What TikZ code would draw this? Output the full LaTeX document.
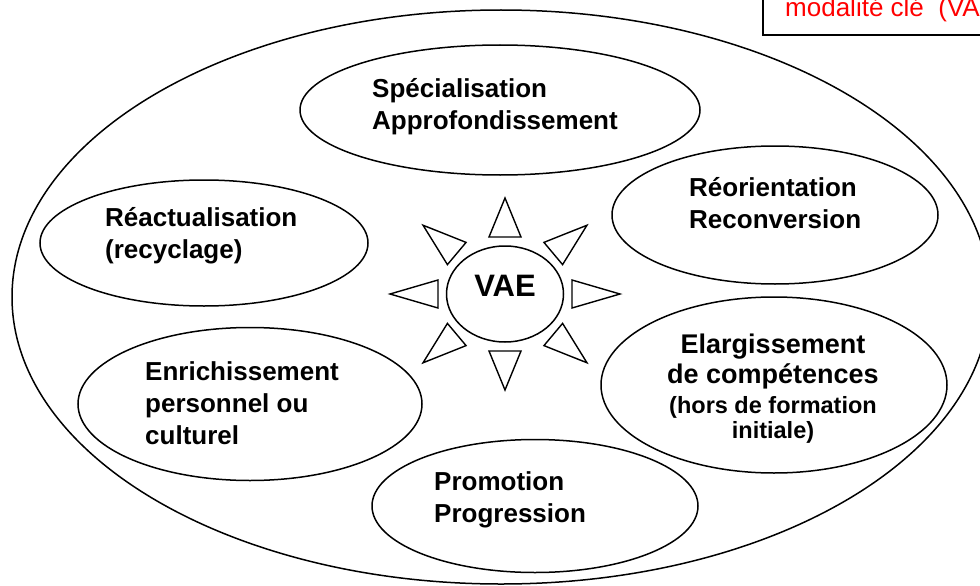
\documentclass[tikz,border=0pt]{standalone}
\usepackage{fontspec}
\setmainfont{Liberation Sans}
\usetikzlibrary{shapes.geometric}

\begin{document}
\begin{tikzpicture}
  [x=1pt,y=-1pt,
   bulle/.style={ellipse, draw, line width=1.5pt, inner sep=0pt},
   titre/.style={font=\bfseries\fontsize{26}{31.7}\selectfont, align=left, inner sep=0pt, anchor=base west},
   rayon/.style={draw, line width=1.4pt, line join=miter}]
  \useasboundingbox (0,0) rectangle (980,586);
  \clip (0,0) rectangle (980,586);

  % cadre en haut a droite
  \draw[line width=1.3pt] (763,-10) rectangle (1000,35);
  \node[anchor=base west, inner sep=0pt, text=red, font=\fontsize{26}{30}\selectfont] (note) at (785,17) {modalité clé\ \ (VA};

  % grande ellipse
  \node[bulle, minimum width=978pt, minimum height=574pt] (cadre) at (501,297) {};

  \node[bulle, minimum width=400pt, minimum height=130pt] (spec) at (500,110) {};
  \node[bulle, minimum width=328pt, minimum height=126pt] (reac) at (204,243) {};
  \node[bulle, minimum width=326pt, minimum height=138pt] (reor) at (775,215) {};
  \node[bulle, minimum width=344pt, minimum height=153pt] (enri) at (250,404) {};
  \node[bulle, minimum width=346pt, minimum height=176pt] (elar) at (774,385) {};
  \node[bulle, minimum width=326pt, minimum height=133pt] (prom) at (535,506) {};
  \node[bulle, minimum width=117pt, minimum height=96pt] (vae) at (505,294) {};

  % textes (base = derniere ligne)
  \node[titre] (l-spec) at (372,129) {Spécialisation\\Approfondissement};
  \node[titre] (l-reac) at (105,258) {Réactualisation\\(recyclage)};
  \node[titre] (l-reor) at (689,228) {Réorientation\\Reconversion};
  \node[titre] (l-enri) at (145,444) {Enrichissement\\personnel ou\\culturel};
  \node[titre] (l-prom) at (434,522) {Promotion\\Progression};
  \node[titre, anchor=base, align=center, font=\bfseries\fontsize{27}{30}\selectfont] (l-elar) at (773,383) {Elargissement\\de compétences};
  \node[titre, anchor=base, align=center, font=\bfseries\fontsize{23.5}{25}\selectfont] (l-hors) at (773,438) {(hors de formation\\initiale)};
  \node[titre, anchor=base, font=\bfseries\fontsize{31}{31}\selectfont] (l-vae) at (505,296) {VAE};

  % rayons autour de VAE
  \begin{scope}[shift={(vae.center)}]
    \foreach \a/\b/\p/\w in {0/67/115/14, 40/63/107/14.5, 90/57/96/16, 140/63/107/14.5,
                             180/67/115/14, 220/63/107/14.5, 270/57/96/16, 320/63/107/14.5}
      \draw[rayon, rotate=\a] (\p,0) -- (\b,\w) -- (\b,-\w) -- cycle;
  \end{scope}
\end{tikzpicture}
\end{document}
